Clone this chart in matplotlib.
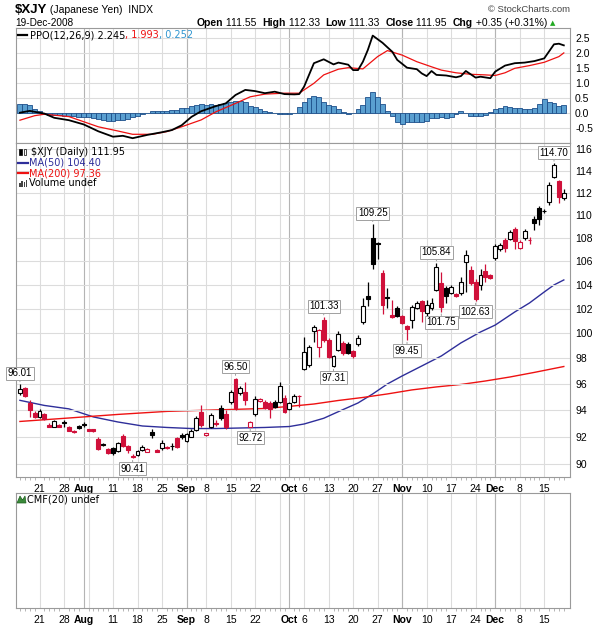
import numpy as np
import pandas as pd
import matplotlib
matplotlib.use("Agg")
from matplotlib import pyplot as plt
from matplotlib.lines import Line2D
from matplotlib.patches import Polygon, Rectangle
from matplotlib.ticker import FixedLocator, NullLocator, FuncFormatter

W, H = 606, 625
plt.rcParams["font.family"] = "Liberation Sans"

# trading days, Labor Day and Thanksgiving dropped
days = pd.bdate_range("2008-07-15", "2008-12-19")
days = days.drop(pd.to_datetime(["2008-09-01", "2008-11-27"]))

opens = [95.29, 95.69, 94.57, 93.81, 93.46, 93.71, 92.87, 92.75, 92.87, 93.10,
         92.75, 92.45, 92.80, 92.95, 92.55, 92.54, 91.81, 91.48, 91.07, 91.17,
         90.97, 92.06, 91.28, 90.56, 90.68, 91.02, 90.90, 92.37, 91.02, 91.14,
         91.24, 91.34, 91.88, 92.10, 91.68, 92.00, 92.50, 93.88, 92.13, 92.75,
         93.02, 94.14, 93.71, 94.59, 96.36, 95.29, 95.41, 92.75, 93.71, 94.67,
         94.64, 94.57, 94.64, 94.64, 94.90, 94.09, 94.64, 95.10, 97.17, 97.48,
         100.21, 98.93, 101.08, 99.47, 97.40, 98.67, 99.21, 99.15, 98.59, 99.15,
         100.94, 103.03, 107.97, 107.60, 104.96, 102.98, 101.45, 102.04, 101.41, 100.61,
         101.08, 102.07, 102.61, 101.65, 102.04, 103.56, 104.12, 103.75, 103.29, 103.23,
         103.29, 105.94, 105.24, 104.26, 103.98, 105.16, 104.82, 106.24, 107.01, 107.82,
         107.88, 108.75, 107.10, 108.02, 107.86, 109.63, 110.61, 110.41, 111.20, 113.46,
         113.07, 111.55]
highs = [96.01, 95.77, 94.77, 93.93, 94.06, 93.79, 93.00, 93.25, 92.95, 93.25,
         92.80, 92.50, 92.87, 93.12, 92.61, 92.61, 91.96, 91.56, 91.17, 91.24,
         91.61, 92.20, 91.39, 90.73, 91.02, 91.39, 91.17, 92.55, 91.09, 91.76,
         91.31, 91.53, 91.98, 92.28, 92.28, 92.57, 93.55, 94.39, 92.31, 93.79,
         93.25, 94.39, 94.01, 95.54, 96.50, 95.85, 96.18, 93.21, 95.08, 94.93,
         94.77, 94.69, 94.77, 96.16, 95.16, 94.62, 95.23, 95.12, 99.71, 99.07,
         100.67, 100.35, 101.33, 99.63, 98.27, 100.19, 99.39, 99.31, 98.67, 99.87,
         102.90, 104.26, 109.25, 107.67, 105.24, 103.73, 102.73, 102.23, 101.49, 100.71,
         102.31, 102.65, 102.73, 102.73, 102.90, 105.84, 105.10, 103.89, 103.98, 103.31,
         104.68, 106.95, 105.58, 104.48, 105.33, 105.75, 104.91, 107.47, 107.56, 107.99,
         108.69, 108.95, 107.78, 108.78, 108.11, 109.92, 110.82, 110.55, 112.98, 114.70,
         113.16, 112.33]
lows = [95.16, 95.00, 93.50, 93.40, 93.38, 93.25, 92.70, 92.70, 92.70, 92.75,
        92.39, 92.31, 92.61, 92.75, 92.39, 92.35, 91.02, 91.31, 90.73, 90.65,
        90.91, 91.24, 90.78, 90.41, 90.58, 90.97, 90.84, 91.88, 90.84, 91.02,
        91.09, 91.02, 91.20, 91.83, 91.61, 91.95, 92.43, 92.72, 92.06, 92.65,
        92.80, 93.25, 92.57, 94.46, 94.01, 95.16, 94.39, 92.72, 93.55, 94.62,
        94.09, 93.38, 94.16, 94.54, 93.79, 94.01, 94.54, 94.26, 97.09, 97.33,
        99.33, 98.13, 99.31, 98.03, 97.31, 98.59, 98.27, 98.35, 98.03, 98.99,
        100.75, 102.23, 105.33, 106.18, 101.57, 102.07, 101.25, 101.33, 100.75, 99.45,
        100.46, 101.98, 100.94, 101.08, 101.90, 103.48, 101.75, 102.48, 103.19, 102.98,
        103.15, 103.42, 103.98, 102.63, 103.56, 104.23, 104.44, 106.09, 106.86, 106.78,
        107.78, 107.04, 107.04, 107.82, 107.47, 108.69, 109.13, 110.19, 110.90, 113.35,
        111.09, 111.33]
closes = [95.59, 95.08, 94.01, 93.50, 93.96, 93.30, 92.75, 93.17, 92.75, 93.00,
          92.43, 92.35, 92.67, 92.90, 92.43, 92.39, 91.07, 91.42, 90.78, 90.82,
          91.51, 91.31, 91.02, 90.51, 90.93, 91.22, 91.09, 92.13, 90.87, 91.51,
          91.17, 91.29, 91.26, 91.95, 92.17, 92.45, 93.38, 92.87, 92.26, 93.63,
          92.96, 93.38, 92.70, 95.36, 94.14, 95.67, 94.77, 93.12, 94.85, 94.81,
          94.14, 94.09, 94.26, 95.85, 93.88, 94.52, 95.08, 95.04, 98.51, 98.91,
          100.49, 100.27, 99.47, 98.13, 98.19, 99.95, 98.41, 98.43, 98.19, 99.61,
          102.26, 102.77, 105.75, 107.47, 102.31, 102.85, 101.35, 101.41, 100.86, 100.32,
          102.17, 102.51, 101.82, 102.31, 102.46, 105.52, 102.17, 103.06, 103.84, 103.06,
          104.26, 106.52, 104.12, 102.79, 104.82, 104.63, 104.54, 107.30, 107.39, 107.10,
          108.49, 107.76, 107.67, 108.60, 107.78, 109.28, 109.63, 110.33, 112.74, 114.54,
          111.65, 111.95]

ma50_idx = [0, 5, 10, 15, 20, 25, 30, 35, 40, 45, 50, 55, 58, 62, 65, 69, 72, 75,
            78, 82, 86, 90, 94, 97, 101, 104, 107, 109, 111]
ma50_val = [94.74, 94.35, 94.09, 93.48, 93.10, 92.80, 92.69, 92.61, 92.61, 92.65,
            92.69, 92.76, 92.95, 93.38, 93.88, 94.54, 95.23, 96.00, 96.62, 97.40,
            98.19, 99.23, 100.11, 100.67, 101.74, 102.48, 103.39, 103.98, 104.40]
ma200_idx = [0, 10, 20, 30, 40, 50, 55, 60, 65, 70, 75, 80, 85, 90, 95, 100, 105, 108, 111]
ma200_val = [93.14, 93.40, 93.67, 93.90, 94.01, 94.12, 94.28, 94.46, 94.73, 94.96,
             95.23, 95.54, 95.77, 95.96, 96.23, 96.54, 96.90, 97.13, 97.36]

ppo_idx = [0, 2, 5, 7, 10, 13, 16, 19, 21, 23, 26, 29, 31, 33, 35, 37, 40, 42, 44, 46,
           48, 50, 52, 54, 56, 57, 58, 60, 62, 64, 65, 67, 68, 69, 70, 71, 72, 74, 76,
           77, 79, 81, 82, 83, 84, 85, 87, 89, 90, 91, 92, 93, 94, 96, 97, 99, 101,
           103, 105, 107, 109, 110, 111]
ppo_val = [0.00, 0.06, -0.03, -0.17, -0.25, -0.39, -0.62, -0.80, -0.77, -0.85, -0.74,
           -0.65, -0.58, -0.42, -0.14, 0.05, 0.22, 0.31, 0.59, 0.76, 0.72, 0.65, 0.70,
           0.62, 0.61, 0.62, 0.87, 1.65, 1.78, 1.61, 1.67, 1.60, 1.42, 1.42, 1.70, 2.09,
           2.57, 2.33, 2.03, 1.76, 1.50, 1.45, 1.31, 1.22, 1.39, 1.26, 1.24, 1.18, 1.22,
           1.39, 1.28, 1.17, 1.20, 1.15, 1.37, 1.57, 1.65, 1.67, 1.72, 1.81, 2.28, 2.30,
           2.245]
sig_idx = [0, 3, 5, 10, 13, 16, 20, 23, 27, 30, 33, 37, 40, 44, 47, 50, 54, 57, 60,
           62, 65, 67, 70, 73, 75, 78, 81, 84, 86, 89, 92, 95, 97, 99, 101, 104, 107,
           110, 111]
sig_val = [-0.25, -0.10, -0.05, -0.13, -0.30, -0.47, -0.61, -0.72, -0.72, -0.63, -0.47,
           -0.24, 0.03, 0.31, 0.53, 0.62, 0.65, 0.65, 0.98, 1.26, 1.45, 1.50, 1.46, 1.87,
           2.07, 1.92, 1.70, 1.53, 1.42, 1.33, 1.28, 1.26, 1.24, 1.33, 1.48, 1.57, 1.68,
           1.87, 1.993]
hist = [0.28, 0.30, 0.25, 0.12, 0.04, -0.04, -0.07, -0.08, -0.09, -0.10,
        -0.11, -0.12, -0.13, -0.14, -0.16, -0.18, -0.22, -0.25, -0.27, -0.28,
        -0.26, -0.24, -0.20, -0.16, -0.10, -0.05, 0.00, 0.05, 0.06, 0.06,
        0.07, 0.08, 0.10, 0.14, 0.17, 0.22, 0.27, 0.28, 0.27, 0.28,
        0.27, 0.30, 0.32, 0.37, 0.40, 0.38, 0.35, 0.22, 0.18, 0.12,
        0.07, 0.03, -0.02, -0.03, -0.03, -0.03, -0.02, 0.20, 0.34, 0.50,
        0.57, 0.53, 0.34, 0.26, 0.22, 0.11, 0.01, -0.06, 0.00, 0.11,
        0.26, 0.53, 0.70, 0.53, 0.29, 0.06, -0.10, -0.30, -0.38, -0.32,
        -0.30, -0.30, -0.30, -0.28, -0.17, -0.17, -0.13, -0.19, -0.13, -0.06,
        0.06, 0.00, -0.10, -0.10, -0.10, -0.08, 0.03, 0.11, 0.17, 0.22,
        0.20, 0.17, 0.14, 0.11, 0.12, 0.14, 0.28, 0.46, 0.37, 0.31,
        0.22, 0.25]

high_marks = [0, 44, 62, 72, 85, 109]
low_marks = [23, 47, 64, 79, 86, 93]

tick_dates = ["2008-07-21", "2008-07-28", "2008-08-01", "2008-08-11", "2008-08-18",
              "2008-08-25", "2008-09-02", "2008-09-08", "2008-09-15", "2008-09-22",
              "2008-10-01", "2008-10-06", "2008-10-13", "2008-10-20", "2008-10-27",
              "2008-11-03", "2008-11-10", "2008-11-17", "2008-11-24", "2008-12-01",
              "2008-12-08", "2008-12-15"]
tick_text = ["21", "28", "Aug", "11", "18", "25", "Sep", "8", "15", "22", "Oct", "6",
             "13", "20", "27", "Nov", "10", "17", "24", "Dec", "8", "15"]

RED = "#d0103a"
BLUE_MA = "#2e2e9a"
GRID = "#dcdcdc"
MONTH_GRID = "#b4b4b4"
EDGE = "#9a9a9a"

x = np.arange(len(days))
tick_idx = [days.get_loc(pd.Timestamp(d)) for d in tick_dates]
week_idx = [i for i in range(1, len(days)) if days[i].weekday() < days[i - 1].weekday()]
month_idx = [i for i in range(1, len(days)) if days[i].month != days[i - 1].month]

fig = plt.figure(figsize=(W / 100, H / 100), dpi=100)


def px_axes(left, top, right, bottom):
    return fig.add_axes([left / W, 1 - bottom / H, (right - left) / W, (bottom - top) / H])


def style_panel(a, labels):
    a.set_xlim(-0.8, 112.16)
    for s in a.spines.values():
        s.set_color(EDGE)
        s.set_linewidth(0.8)
    for i in week_idx:
        a.axvline(i, color=GRID, lw=0.8, zorder=0)
    for i in month_idx:
        a.axvline(i, color=MONTH_GRID, lw=0.8, zorder=0)
    a.set_xticks(tick_idx)
    a.set_xticks(x, minor=True)
    if labels:
        a.set_xticklabels(tick_text)
        for t, s in zip(a.get_xticklabels(), tick_text):
            if not s.isdigit():
                t.set_fontweight("bold")
        a.tick_params(axis="x", which="major", length=0, pad=5, labelsize=7.5)
        a.tick_params(axis="x", which="minor", length=2, color="#aaaaaa", width=0.6)
    else:
        a.tick_params(axis="x", which="both", length=0, labelbottom=False)


ax_ppo = px_axes(16, 28, 569.5, 143)
ax = px_axes(16, 143, 569.5, 477)
ax_cmf = px_axes(16, 493, 569.5, 608)

# price panel
style_panel(ax, True)
ax.set_yscale("log")
ax.set_ylim(89.06, 116.59)
ax.yaxis.set_major_locator(FixedLocator(list(range(90, 117, 2))))
ax.yaxis.set_major_formatter(FuncFormatter(lambda v, p: "%d" % round(v)))
ax.yaxis.set_minor_locator(NullLocator())
ax.yaxis.tick_right()
ax.tick_params(axis="y", length=0, pad=4, labelsize=7.5)
ax.grid(axis="y", color=GRID, lw=0.8, zorder=0)

o = np.array(opens)
c = np.array(closes)
prev = np.r_[c[0], c[:-1]]
col = np.where(c >= prev, "black", RED)
face = np.where(c > o, "white", col)
ax.vlines(x, lows, highs, colors=col, lw=0.9, zorder=2)
ax.bar(x, np.maximum(np.abs(c - o), 0.05), bottom=np.minimum(o, c), width=0.8,
       color=face, edgecolor=col, linewidth=0.8, zorder=3)

ax.plot(ma50_idx, ma50_val, color=BLUE_MA, lw=1.0, zorder=1)
ax.plot(ma200_idx, ma200_val, color="#ee1111", lw=1.0, zorder=1)

box = dict(boxstyle="square,pad=0.15", fc="white", ec="#a0a0a0", lw=0.7)
arr = dict(arrowstyle="-", color="#a0a0a0", lw=0.7, shrinkA=0, shrinkB=1.5)
for i in high_marks:
    ax.annotate("%.2f" % highs[i], xy=(i, highs[i]), xytext=(0, 7.6), textcoords="offset points",
                ha="center", va="center", fontsize=7, bbox=box, arrowprops=arr,
                zorder=6, annotation_clip=False)
for i in low_marks:
    ax.annotate("%.2f" % lows[i], xy=(i, lows[i]), xytext=(0, -7.6), textcoords="offset points",
                ha="center", va="center", fontsize=7, bbox=box, arrowprops=arr,
                zorder=6, annotation_clip=False)

# PPO panel
style_panel(ax_ppo, False)
ax_ppo.set_ylim(-1.01, 2.823)
ax_ppo.set_yticks(np.arange(-0.5, 2.6, 0.5))
ax_ppo.yaxis.set_major_formatter(FuncFormatter(lambda v, p: "%.1f" % v))
ax_ppo.yaxis.tick_right()
ax_ppo.tick_params(axis="y", length=0, pad=4, labelsize=7.5)
ax_ppo.grid(axis="y", color=GRID, lw=0.8, zorder=0)
ax_ppo.bar(x, hist, width=1.0, color="#5a9fd0", edgecolor="#1d4f8a", lw=0.6, zorder=2)
ax_ppo.plot(sig_idx, sig_val, color="#ee1111", lw=0.9, zorder=3)
ax_ppo.plot(ppo_idx, ppo_val, color="black", lw=1.3, zorder=4)

# CMF panel
style_panel(ax_cmf, True)
ax_cmf.set_yticks([])
ax_cmf.set_ylim(0, 1)


def row(xp, yp, parts):
    r = fig.canvas.get_renderer()
    for s, color, weight, size, family in parts:
        t = fig.text(xp / W, 1 - yp / H, s, color=color, fontsize=size, fontweight=weight,
                     family=family, va="center", ha="left")
        xp = t.get_window_extent(r).x1
    return xp


def seg(x0, x1, yp, color, lw=1.6):
    fig.add_artist(Line2D([x0 / W, x1 / W], [1 - yp / H, 1 - yp / H], color=color, lw=lw,
                          transform=fig.transFigure))


# header
row(15, 10, [("$XJY", "black", "bold", 9.5, "Liberation Sans"),
             (" (Japanese Yen)  INDX", "black", "normal", 7.5, "Liberation Sans")])
fig.text(570 / W, 1 - 10 / H, "\u00a9 StockCharts.com", ha="right", va="center",
         fontsize=6.8, color="#444444")
row(15, 23, [("19-Dec-2008", "black", "normal", 7.2, "Liberation Sans")])
xe = row(196.5, 23, [("Open", "black", "bold", 7.5, "Liberation Sans"),
                     (" 111.55  ", "black", "normal", 7.5, "Liberation Sans"),
                     ("High", "black", "bold", 7.5, "Liberation Sans"),
                     (" 112.33  ", "black", "normal", 7.5, "Liberation Sans"),
                     ("Low", "black", "bold", 7.5, "Liberation Sans"),
                     (" 111.33  ", "black", "normal", 7.5, "Liberation Sans"),
                     ("Close", "black", "bold", 7.5, "Liberation Sans"),
                     (" 111.95  ", "black", "normal", 7.5, "Liberation Sans"),
                     ("Chg", "black", "bold", 7.5, "Liberation Sans"),
                     (" +0.35 (+0.31%)", "black", "normal", 7.5, "Liberation Sans")])
fig.text((xe + 3) / W, 1 - 23 / H, "\u25b2", ha="left", va="center", fontsize=5,
         color="#22aa22", family="DejaVu Sans")

# legends
seg(18, 27, 35, "black")
row(30, 35, [("PPO(12,26,9) 2.245", "black", "normal", 7, "DejaVu Sans"),
             (", 1.993", "#ee1111", "normal", 7, "DejaVu Sans"),
             (", 0.252", "#2f95d0", "normal", 7, "DejaVu Sans")])

fig.add_artist(Rectangle((19 / W, 1 - 155 / H), 2.5 / W, 6 / H, transform=fig.transFigure,
                         fc="black", ec="black", lw=0.5))
fig.add_artist(Rectangle((23.5 / W, 1 - 155 / H), 2.5 / W, 6 / H, transform=fig.transFigure,
                         fc="white", ec="black", lw=0.5))
row(31, 151.7, [("$XJY (Daily) 111.95", "black", "normal", 7, "DejaVu Sans")])
seg(18, 28, 162.7, BLUE_MA)
row(29, 162.7, [("MA(50) 104.40", BLUE_MA, "normal", 7, "DejaVu Sans")])
seg(18, 28, 173.3, "#ee1111")
row(29, 173.3, [("MA(200) 97.36", "#ee1111", "normal", 7, "DejaVu Sans")])
for k, hgt in enumerate([4, 6, 5, 7]):
    fig.add_artist(Rectangle(((19 + 2.3 * k) / W, 1 - 187 / H), 1.5 / W, hgt / H,
                             transform=fig.transFigure, fc="#444444", ec="none"))
row(29, 183.3, [("Volume undef", "black", "normal", 7, "DejaVu Sans")])

fig.add_artist(Polygon([[17 / W, 1 - 503 / H], [20 / W, 1 - 496 / H], [22.5 / W, 1 - 500 / H],
                        [25 / W, 1 - 496 / H], [26 / W, 1 - 503 / H]], closed=True,
                       transform=fig.transFigure, fc="#3a8a3a", ec="#1f5f1f", lw=0.5))
row(27, 499.5, [("CMF(20) undef", "black", "normal", 7, "DejaVu Sans")])

fig.savefig("out.png", dpi=100)
